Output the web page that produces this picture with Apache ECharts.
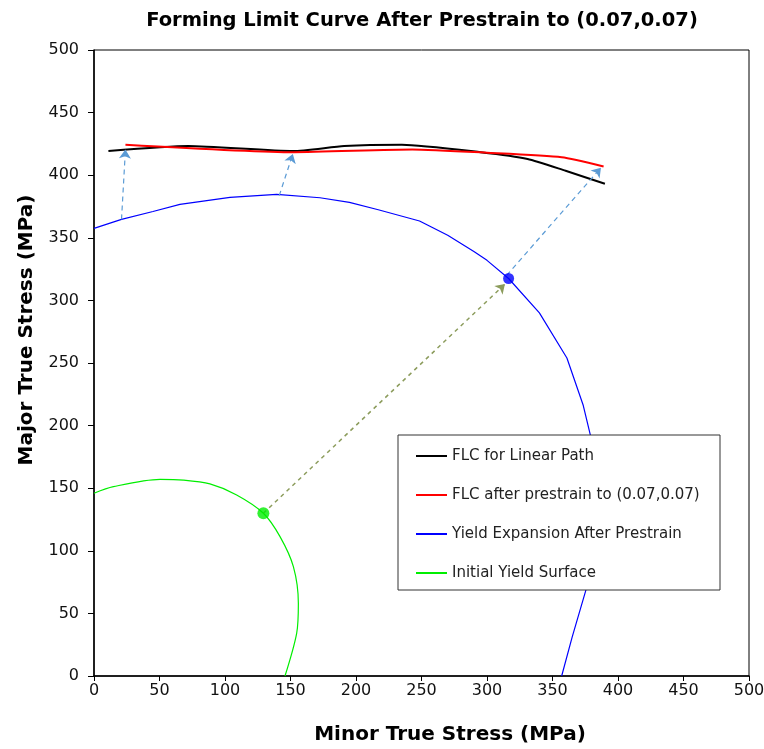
<!DOCTYPE html>
<html><head><meta charset="utf-8">
<script src="https://cdn.jsdelivr.net/npm/echarts@6/dist/echarts.min.js"></script>
<style>html,body{margin:0;padding:0;background:#fff}#c{width:764px;height:749px}</style>
</head><body><div id="c"></div>
<script>
const flcLinear = [[11,419.3],[72,423.3],[152,419.3],[191,423.3],[235,424.4],[295,418.4],[331,413],[360,403.5],[390,393.2]];
const flcPrestrain = [[24,424.4],[152.5,418.4],[243,420.6],[300,418],[357,414.4],[389,407]];
const yieldExpansion = [[0,357.5],[21,364.7],[45,371],[65.6,376.7],[103.8,382.3],[139.4,384.7],[172.5,382],[195,378.3],[217,372.4],[248.5,363.4],[270,352],[290,339],[300,332],[316.5,317.5],[340,290],[361,254],[373.5,216],[379,192],[381,150],[379,110],[375.6,69],[365,31],[357,0]];
const initialYield = [[0,146],[14.8,151.2],[50.4,157.1],[68.2,156.5],[88.5,153.4],[108.9,144.6],[129.3,130],[142,111.3],[152.2,87.3],[156,58],[154.7,34.1],[145.8,0]];
const initialPoint = [[129.3,130]];
const prestrainPoint = [[316.5,317.5]];
const blueArrows = [[[21,364.7],[24,420.5]],[[141.4,383.7],[151.8,417]],[[315,320],[387,406]]];
const olivePath = [[[129.3,130],[313.7,313]]];
const legendNames = ['FLC for Linear Path','FLC after prestrain to (0.07,0.07)','Yield Expansion After Prestrain','Initial Yield Surface'];

const chart = echarts.init(document.getElementById('c'));
const font = '"DejaVu Sans", sans-serif';
chart.setOption({
  animation:false,
  title:{text:'Forming Limit Curve After Prestrain to (0.07,0.07)',left:417,textAlign:'center',top:6,
    textStyle:{fontFamily:font,fontSize:19.5,fontWeight:'bold',color:'#000'}},
  grid:{left:94,right:15,top:50,bottom:73,outerBoundsMode:'none',containLabel:false,show:true,borderColor:'#000',borderWidth:1,backgroundColor:'#fff'},
  graphic:[{type:'rect',z:7,shape:{x:398,y:435,width:322,height:155},style:{fill:'#fff',stroke:'#333',lineWidth:1}}],
  legend:{orient:'vertical',left:416,top:447,padding:0,itemGap:21,z:8,
    itemWidth:31,itemHeight:2,icon:'rect',
    textStyle:{fontFamily:font,fontSize:15,color:'#222',lineHeight:18},
    data:legendNames},
  xAxis:{type:'value',min:0,max:500,interval:50,name:'Minor True Stress (MPa)',nameLocation:'middle',nameGap:49,
    nameTextStyle:{fontFamily:font,fontSize:20,fontWeight:'bold',color:'#000',padding:[0,0,0,57]},
    axisLine:{lineStyle:{color:'#000',width:1.5}},axisTick:{show:true,length:5,lineStyle:{color:'#000'}},
    axisLabel:{fontFamily:font,fontSize:16,color:'#111',margin:7},
    splitLine:{show:false}},
  yAxis:{type:'value',min:0,max:500,interval:50,name:'Major True Stress (MPa)',nameLocation:'middle',nameGap:57,
    nameTextStyle:{fontFamily:font,fontSize:20,fontWeight:'bold',color:'#000',padding:[0,0,0,66]},
    axisLine:{show:true,lineStyle:{color:'#000',width:1.5}},axisTick:{show:true,length:6,lineStyle:{color:'#000'}},
    axisLabel:{fontFamily:font,fontSize:16,color:'#111',margin:15},
    splitLine:{show:false}},
  series:[
    {name:'Initial Yield Surface',type:'line',data:initialYield,symbol:'none',smooth:0.3,lineStyle:{color:'#00ee00',width:1.2},itemStyle:{color:'#00ee00'},z:3},
    {name:'Yield Expansion After Prestrain',type:'line',data:yieldExpansion,symbol:'none',lineStyle:{color:'#0000ff',width:1.2},itemStyle:{color:'#0000ff'},z:3},
    {name:'FLC for Linear Path',type:'line',data:flcLinear,symbol:'none',smooth:0.2,lineStyle:{color:'#000',width:2},itemStyle:{color:'#000'},z:4},
    {name:'FLC after prestrain to (0.07,0.07)',type:'line',data:flcPrestrain,symbol:'none',smooth:0.2,lineStyle:{color:'#ff0000',width:2},itemStyle:{color:'#ff0000'},z:4},
    {name:'arrowsBlue',type:'lines',coordinateSystem:'cartesian2d',symbol:['none','arrow'],symbolSize:9,
      lineStyle:{color:'#5b9bd5',width:1.2,type:[5,4],opacity:1},
      data:blueArrows.map(c=>({coords:c})),z:5},
    {name:'arrowOlive',type:'lines',coordinateSystem:'cartesian2d',symbol:['none','arrow'],symbolSize:9,
      lineStyle:{color:'#8c9c5c',width:1.5,type:[4,4],opacity:1},
      data:olivePath.map(c=>({coords:c})),z:5},
    {name:'p0',type:'scatter',data:initialPoint,symbol:'circle',symbolSize:12,itemStyle:{color:'#00ee00'},z:6},
    {name:'p1',type:'scatter',data:prestrainPoint,symbol:'circle',symbolSize:11,itemStyle:{color:'#0000ff'},z:6}
  ]
});
</script></body></html>
